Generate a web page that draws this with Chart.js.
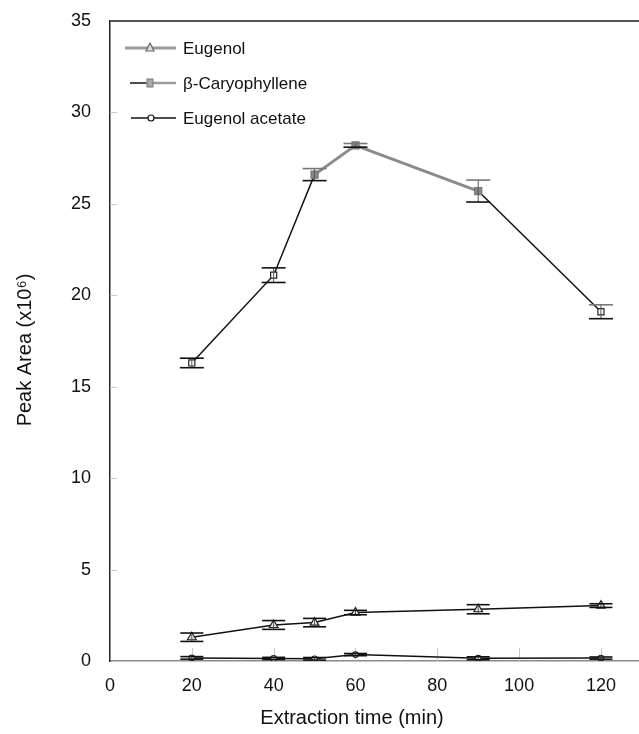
<!DOCTYPE html>
<html>
<head>
<meta charset="utf-8">
<script src="https://cdn.jsdelivr.net/npm/chart.js@4.4.1/dist/chart.umd.min.js"></script>
<style>
  html, body { margin: 0; padding: 0; background: #fff; }
  #wrap { width: 639px; height: 734px; position: relative; }
</style>
</head>
<body>
<div id="wrap"><canvas id="c" width="639" height="734"></canvas></div>
<script>
// ---- data ----
const extractionTimes = [20, 40, 50, 60, 90, 120];
const eugenol        = [1.30, 1.97, 2.10, 2.65, 2.83, 3.03];
const eugenolErr     = [0.23, 0.24, 0.23, 0.12, 0.25, 0.10];
const caryophyllene  = [16.3, 21.1, 26.6, 28.2, 25.7, 19.1];
const caryophylleneErr = [0.26, 0.40, 0.33, 0.10, 0.60, 0.38];
const eugenolAcetate = [0.17, 0.14, 0.12, 0.35, 0.15, 0.16];
const eugenolAcetateErr = [0.07, 0.06, 0.07, 0.06, 0.08, 0.06];
const xTickValues = [0, 20, 40, 60, 80, 100, 120];
const yTickValues = [0, 5, 10, 15, 20, 25, 30, 35];
const seriesNames = ['Eugenol', '\u03B2-Caryophyllene', 'Eugenol acetate'];
const xTitle = 'Extraction time (min)';
const yTitle = 'Peak Area (x10\u2076)';

const FONT = '"Liberation Sans", Arial, sans-serif';
const toPts = (ys) => ys.map((y, i) => ({ x: extractionTimes[i], y }));
const grayIdx = (i) => i >= 2 && i <= 4;

const errorBarPlugin = {
  id: 'errorBars',
  afterDatasetsDraw(chart) {
    const ctx = chart.ctx;
    const xs = chart.scales.x, ys = chart.scales.y;
    chart.data.datasets.forEach((ds, di) => {
      if (!ds.errors) return;
      ds.data.forEach((p, i) => {
        const e = ds.errors[i];
        const px = xs.getPixelForValue(p.x);
        const yt = ys.getPixelForValue(p.y + e);
        const yb = ys.getPixelForValue(p.y - e);
        const hw = ds.capHalf;
        ctx.save();
        ctx.lineWidth = 1;
        ctx.strokeStyle = '#555';
        ctx.beginPath(); ctx.moveTo(px, yt); ctx.lineTo(px, yb); ctx.stroke();
        ctx.lineWidth = 1.6;
        ctx.strokeStyle = ds.capTopColor ? ds.capTopColor(i) : '#111';
        ctx.beginPath(); ctx.moveTo(px - hw, yt); ctx.lineTo(px + hw, yt); ctx.stroke();
        ctx.strokeStyle = '#111';
        ctx.beginPath(); ctx.moveTo(px - hw, yb); ctx.lineTo(px + hw, yb); ctx.stroke();
        ctx.restore();
      });
    });
  }
};

const decorPlugin = {
  id: 'decor',
  beforeDatasetsDraw(chart) {
    const ctx = chart.ctx;
    const a = chart.chartArea;
    const xs = chart.scales.x, ys = chart.scales.y;
    ctx.save();
    // inner tick marks
    ctx.strokeStyle = '#c8c8c8';
    ctx.lineWidth = 1;
    yTickValues.forEach(v => {
      if (v === 0) return;
      const py = Math.round(ys.getPixelForValue(v)) + 0.5;
      ctx.beginPath(); ctx.moveTo(a.left, py); ctx.lineTo(a.left + 7, py); ctx.stroke();
    });
    xTickValues.forEach(v => {
      if (v === 0) return;
      const px = Math.round(xs.getPixelForValue(v)) + 0.5;
      ctx.beginPath(); ctx.moveTo(px, a.bottom); ctx.lineTo(px, a.bottom - 13); ctx.stroke();
    });
    // top frame line
    ctx.strokeStyle = '#555';
    ctx.lineWidth = 2;
    ctx.beginPath(); ctx.moveTo(a.left, a.top); ctx.lineTo(chart.width, a.top); ctx.stroke();
    ctx.restore();
  },
  afterDraw(chart) {
    const ctx = chart.ctx;
    ctx.save();
    ctx.fillStyle = '#111';
    ctx.font = '20px ' + FONT;
    ctx.textAlign = 'center';
    ctx.textBaseline = 'middle';
    ctx.fillText(xTitle, 352, 718);
    ctx.translate(25, 350);
    ctx.rotate(-Math.PI / 2);
    ctx.fillText(yTitle, 0, 0);
    ctx.restore();

    // legend
    const rows = [48, 83, 118];
    ctx.save();
    ctx.lineCap = 'butt';
    // Eugenol
    ctx.strokeStyle = '#9a9a9a'; ctx.lineWidth = 3;
    ctx.beginPath(); ctx.moveTo(125, rows[0]); ctx.lineTo(176, rows[0]); ctx.stroke();
    ctx.strokeStyle = '#666'; ctx.lineWidth = 1.2; ctx.fillStyle = '#ddd';
    ctx.beginPath(); ctx.moveTo(150, rows[0] - 5); ctx.lineTo(154, rows[0] + 3); ctx.lineTo(146, rows[0] + 3); ctx.closePath(); ctx.fill(); ctx.stroke();
    // Caryophyllene
    ctx.strokeStyle = '#111'; ctx.lineWidth = 1.5;
    ctx.beginPath(); ctx.moveTo(130, rows[1]); ctx.lineTo(146, rows[1]); ctx.stroke();
    ctx.strokeStyle = '#999'; ctx.lineWidth = 2.5;
    ctx.beginPath(); ctx.moveTo(146, rows[1]); ctx.lineTo(176, rows[1]); ctx.stroke();
    ctx.fillStyle = '#aaa'; ctx.strokeStyle = '#777'; ctx.lineWidth = 1;
    ctx.fillRect(147, rows[1] - 4, 6, 8); ctx.strokeRect(147, rows[1] - 4, 6, 8);
    // Eugenol acetate
    ctx.strokeStyle = '#111'; ctx.lineWidth = 1.5;
    ctx.beginPath(); ctx.moveTo(131, rows[2]); ctx.lineTo(176, rows[2]); ctx.stroke();
    ctx.fillStyle = '#fff'; ctx.lineWidth = 1.2;
    ctx.beginPath(); ctx.arc(151, rows[2], 3, 0, Math.PI * 2); ctx.fill(); ctx.stroke();
    // texts
    ctx.fillStyle = '#111';
    ctx.font = '17px ' + FONT;
    ctx.textAlign = 'left';
    ctx.textBaseline = 'middle';
    seriesNames.forEach((n, i) => ctx.fillText(n, 183, rows[i] + 1));
    ctx.restore();
  }
};

new Chart(document.getElementById('c'), {
  type: 'line',
  data: {
    datasets: [
      {
        label: seriesNames[0],
        data: toPts(eugenol),
        errors: eugenolErr,
        capHalf: 11.5,
        borderColor: '#111',
        borderWidth: 1.5,
        pointStyle: 'triangle',
        pointRadius: 5,
        pointBorderWidth: 1.2,
        pointBorderColor: '#222',
        pointBackgroundColor: '#e6e6e6',
        tension: 0
      },
      {
        label: seriesNames[1],
        data: toPts(caryophyllene),
        errors: caryophylleneErr,
        capHalf: 12,
        capTopColor: (i) => i >= 2 ? '#777' : '#111',
        borderColor: '#111',
        borderWidth: 1.5,
        segment: {
          borderColor: (c) => (grayIdx(c.p0DataIndex) && grayIdx(c.p1DataIndex)) ? '#8a8a8a' : '#111',
          borderWidth: (c) => (grayIdx(c.p0DataIndex) && grayIdx(c.p1DataIndex)) ? 3 : 1.5
        },
        pointStyle: 'rect',
        pointRadius: caryophyllene.map((v, i) => grayIdx(i) ? 5 : 4.3),
        pointBorderWidth: 1.2,
        pointBorderColor: caryophyllene.map((v, i) => grayIdx(i) ? '#777' : '#222'),
        pointBackgroundColor: caryophyllene.map((v, i) => grayIdx(i) ? '#888' : '#fff'),
        tension: 0
      },
      {
        label: seriesNames[2],
        data: toPts(eugenolAcetate),
        errors: eugenolAcetateErr,
        capHalf: 11.5,
        borderColor: '#111',
        borderWidth: 1.5,
        pointStyle: 'circle',
        pointRadius: 2.8,
        pointBorderWidth: 1.2,
        pointBorderColor: '#222',
        pointBackgroundColor: '#fff',
        tension: 0
      }
    ]
  },
  options: {
    responsive: false,
    animation: false,
    devicePixelRatio: 1,
    layout: { autoPadding: false, padding: { top: 21, right: 0, bottom: 0, left: 0 } },
    plugins: {
      legend: { display: false },
      tooltip: { enabled: false },
      title: { display: false }
    },
    scales: {
      x: {
        type: 'linear',
        min: 0,
        max: 129.3,
        afterBuildTicks: (s) => { s.ticks = xTickValues.map(v => ({ value: v })); },
        afterFit: (s) => { s.height = 73; },
        grid: { display: true, drawOnChartArea: false, drawTicks: true, tickLength: 14, color: 'rgba(0,0,0,0)' },
        border: { display: true, color: '#8a8a8a', width: 1.5 },
        ticks: {
          padding: 0,
          color: '#111',
          font: { family: FONT, size: 18 },
          maxRotation: 0
        }
      },
      y: {
        type: 'linear',
        min: 0,
        max: 35,
        afterBuildTicks: (s) => { s.ticks = yTickValues.map(v => ({ value: v })); },
        afterFit: (s) => { s.width = 110; },
        grid: { display: true, drawOnChartArea: false, drawTicks: true, tickLength: 19, color: 'rgba(0,0,0,0)' },
        border: { display: true, color: '#222', width: 1.5 },
        ticks: {
          padding: 0,
          color: '#111',
          font: { family: FONT, size: 18 }
        }
      }
    }
  },
  plugins: [decorPlugin, errorBarPlugin]
});
</script>
</body>
</html>
